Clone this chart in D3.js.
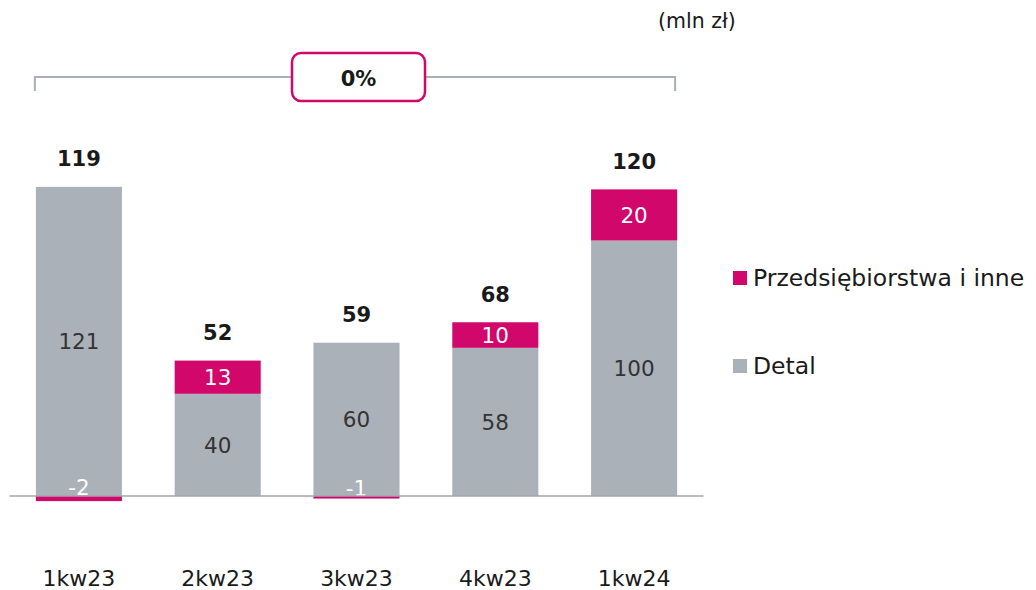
<!DOCTYPE html>
<html><head><meta charset="utf-8">
<script src="https://cdn.jsdelivr.net/npm/d3@7"></script>
<style>body{margin:0;background:#fff}svg{display:block}</style>
</head><body>
<svg id="c" width="1036" height="590"></svg>
<script>
const categories = ['1kw23','2kw23','3kw23','4kw23','1kw24'];
const detal = [121, 40, 60, 58, 100];
const firmy = [-2, 13, -1, 10, 20];
const totals = [119, 52, 59, 68, 120];
const seriesNames = ['Przedsiębiorstwa i inne', 'Detal'];
const changeLabel = '0%';
const unitLabel = '(mln zł)';

const GRAY = '#abb1b8', PINK = '#d1076b', TXT = '#1a1a1a';
const FONT = 'DejaVu Sans, sans-serif';
const svg = d3.select('#c').style('font-family', FONT);

const x = d3.scaleBand().domain(categories).range([9.5, 703.5]).paddingInner(0.38).paddingOuter(0.19);
const y = d3.scaleLinear().domain([0, 100]).range([496, 240.5]);

const rows = categories.map((c, i) => {
  const d0 = 0, d1 = detal[i];
  let f0, f1;
  if (firmy[i] >= 0) { f0 = detal[i]; f1 = detal[i] + firmy[i]; }
  else { f0 = firmy[i]; f1 = 0; }
  return {c, i, d0, d1, f0, f1};
});

const g = svg.append('g');
g.selectAll('rect.det').data(rows).join('rect')
  .attr('x', d => x(d.c)).attr('width', x.bandwidth())
  .attr('y', d => y(d.d1)).attr('height', d => y(d.d0) - y(d.d1))
  .attr('fill', GRAY);
g.selectAll('rect.firm').data(rows).join('rect')
  .attr('x', d => x(d.c)).attr('width', x.bandwidth())
  .attr('y', d => y(d.f1)).attr('height', d => y(d.f0) - y(d.f1))
  .attr('fill', PINK);

svg.append('line').attr('x1', x.range()[0]).attr('x2', x.range()[1])
  .attr('y1', y(0)).attr('y2', y(0)).attr('stroke', '#a6a6a6').attr('stroke-width', 1.5);

g.selectAll('text.det').data(rows).join('text')
  .attr('x', d => x(d.c) + x.bandwidth()/2).attr('y', d => (y(d.d0) + y(d.d1))/2)
  .attr('dy', '0.36em').attr('text-anchor', 'middle').attr('font-size', 21.5).attr('fill', '#333')
  .text(d => detal[d.i]);
g.selectAll('text.firm').data(rows).join('text')
  .attr('x', d => x(d.c) + x.bandwidth()/2)
  .attr('y', d => firmy[d.i] >= 0 ? (y(d.f0) + y(d.f1))/2 : y(0) - 6 + firmy[d.i]*1.5)
  .attr('dy', '0.36em').attr('text-anchor', 'middle').attr('font-size', 21.5).attr('fill', '#fff')
  .text(d => firmy[d.i]);

g.selectAll('text.tot').data(rows).join('text')
  .attr('x', d => x(d.c) + x.bandwidth()/2)
  .attr('y', d => y(Math.max(d.d1, d.f1)) - 28)
  .attr('dy', '0.36em').attr('text-anchor', 'middle').attr('font-size', 21).attr('font-weight', 'bold').attr('fill', TXT)
  .text(d => totals[d.i]);

g.selectAll('text.xl').data(categories).join('text')
  .attr('x', d => x(d) + x.bandwidth()/2).attr('y', 578)
  .attr('dy', '0.36em').attr('text-anchor', 'middle').attr('font-size', 22).attr('fill', TXT)
  .text(d => d);

const bx0 = x(categories[0]) - 1, bx1 = x(categories[4]) + x.bandwidth() - 2;
svg.append('path').attr('d', `M${bx0},91V77H${bx1}V91`).attr('fill', 'none')
  .attr('stroke', '#a9b0b7').attr('stroke-width', 2);
svg.append('rect').attr('x', 292).attr('y', 53).attr('width', 133).attr('height', 48).attr('rx', 9)
  .attr('fill', '#fff').attr('stroke', PINK).attr('stroke-width', 2.5);
svg.append('text').attr('x', 358.5).attr('y', 78).attr('dy', '0.36em').attr('text-anchor', 'middle')
  .attr('font-size', 21).attr('font-weight', 'bold').attr('fill', TXT).text(changeLabel);

svg.append('text').attr('x', 697).attr('y', 21).attr('dy', '0.36em').attr('text-anchor', 'middle')
  .attr('font-size', 20.5).attr('fill', TXT).text(unitLabel);

const leg = svg.append('g');
[[seriesNames[0], PINK, 278], [seriesNames[1], GRAY, 366]].forEach(([n, c, yy]) => {
  leg.append('rect').attr('x', 733).attr('y', yy - 7).attr('width', 14).attr('height', 14).attr('fill', c);
  leg.append('text').attr('x', 753).attr('y', yy).attr('dy', '0.36em').attr('font-size', 23.5).attr('fill', TXT).text(n);
});
</script>
</body></html>
